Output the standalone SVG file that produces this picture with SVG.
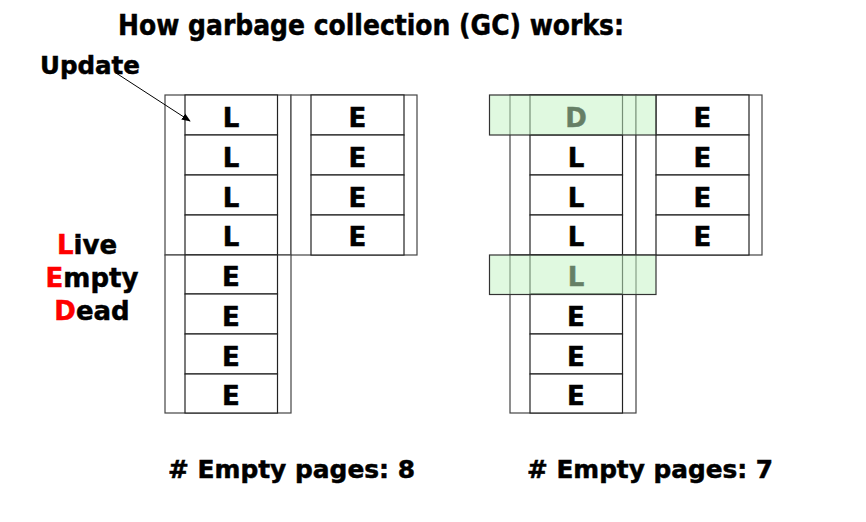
<svg xmlns="http://www.w3.org/2000/svg" width="866" height="522" viewBox="0 0 866 522">
<defs>
<style>
text{font-family:"DejaVu Sans","Liberation Sans",sans-serif;font-weight:bold;fill:#000;stroke:#000;stroke-width:0.5}
.c{font-size:26px;text-anchor:middle}
.lg{font-size:26px;text-anchor:middle}
.frame{fill:#fff;stroke:#444;stroke-width:1.2}
.cell{fill:#fff;stroke:#222;stroke-width:1.2}
.hl{fill:#c4f4c4;fill-opacity:0.52;stroke:#333;stroke-width:1.2}
.red{fill:#ff0000;stroke:#ff0000}
</style>
<marker id="ah" viewBox="0 0 10 10" refX="9" refY="5" markerWidth="9" markerHeight="9" markerUnits="userSpaceOnUse" orient="auto"><path d="M0,1 L10,5 L0,9 z" fill="#000"/></marker>
</defs>
<rect width="866" height="522" fill="#fff"/>
<text x="371" y="35" font-size="28" text-anchor="middle" textLength="506" lengthAdjust="spacingAndGlyphs">How garbage collection (GC) works:</text>
<text id="update" x="40" y="74" font-size="24" textLength="100" lengthAdjust="spacingAndGlyphs">Update</text>
<g id="legend">
<text class="lg" x="87" y="254"><tspan class="red">L</tspan>ive</text>
<text class="lg" x="92" y="287"><tspan class="red">E</tspan>mpty</text>
<text class="lg" x="92" y="320"><tspan class="red">D</tspan>ead</text>
</g>
<g id="before">
<g id="blockA1">
<rect class="frame" x="165" y="95" width="126" height="160"/>
<rect class="cell" x="185" y="95" width="92.5" height="40"/>
<rect class="cell" x="185" y="135" width="92.5" height="40"/>
<rect class="cell" x="185" y="175" width="92.5" height="40"/>
<rect class="cell" x="185" y="215" width="92.5" height="40"/>
<text class="c" x="231" y="127">L</text>
<text class="c" x="231" y="167">L</text>
<text class="c" x="231" y="207">L</text>
<text class="c" x="231" y="246">L</text>
</g>
<g id="blockB1">
<rect class="frame" x="291" y="95" width="126" height="160"/>
<rect class="cell" x="311" y="95" width="93" height="40"/>
<rect class="cell" x="311" y="135" width="93" height="40"/>
<rect class="cell" x="311" y="175" width="93" height="40"/>
<rect class="cell" x="311" y="215" width="93" height="40"/>
<text class="c" x="357.5" y="127">E</text>
<text class="c" x="357.5" y="167">E</text>
<text class="c" x="357.5" y="207">E</text>
<text class="c" x="357.5" y="246">E</text>
</g>
<g id="blockC1">
<rect class="frame" x="165" y="255" width="126" height="158"/>
<rect class="cell" x="185" y="255" width="92.5" height="39"/>
<rect class="cell" x="185" y="294" width="92.5" height="40"/>
<rect class="cell" x="185" y="334" width="92.5" height="40"/>
<rect class="cell" x="185" y="374" width="92.5" height="39"/>
<text class="c" x="231" y="286">E</text>
<text class="c" x="231" y="326">E</text>
<text class="c" x="231" y="366">E</text>
<text class="c" x="231" y="405">E</text>
</g>
</g>
<g id="after">
<g id="blockA2">
<rect class="frame" x="510" y="95" width="126" height="160"/>
<rect class="cell" x="530" y="95" width="92.5" height="40"/>
<rect class="cell" x="530" y="135" width="92.5" height="40"/>
<rect class="cell" x="530" y="175" width="92.5" height="40"/>
<rect class="cell" x="530" y="215" width="92.5" height="40"/>
<text class="c" x="576" y="127">D</text>
<text class="c" x="576" y="167">L</text>
<text class="c" x="576" y="207">L</text>
<text class="c" x="576" y="246">L</text>
</g>
<g id="blockB2">
<rect class="frame" x="636" y="95" width="126" height="160"/>
<rect class="cell" x="656" y="95" width="93" height="40"/>
<rect class="cell" x="656" y="135" width="93" height="40"/>
<rect class="cell" x="656" y="175" width="93" height="40"/>
<rect class="cell" x="656" y="215" width="93" height="40"/>
<text class="c" x="702.5" y="127">E</text>
<text class="c" x="702.5" y="167">E</text>
<text class="c" x="702.5" y="207">E</text>
<text class="c" x="702.5" y="246">E</text>
</g>
<g id="blockC2">
<rect class="frame" x="510" y="255" width="126" height="158"/>
<rect class="cell" x="530" y="255" width="92.5" height="39"/>
<rect class="cell" x="530" y="294" width="92.5" height="40"/>
<rect class="cell" x="530" y="334" width="92.5" height="40"/>
<rect class="cell" x="530" y="374" width="92.5" height="39"/>
<text class="c" x="576" y="286">L</text>
<text class="c" x="576" y="326">E</text>
<text class="c" x="576" y="366">E</text>
<text class="c" x="576" y="405">E</text>
</g>
<g id="highlights">
<rect class="hl" x="489.5" y="95" width="166.5" height="40"/>
<rect class="hl" x="489.5" y="255" width="166.5" height="39.5"/>
</g>
</g>
<g id="connectors">
<line x1="116" y1="73" x2="190" y2="121" stroke="#000" stroke-width="1" marker-end="url(#ah)"/>
</g>
<text x="291.5" y="478" font-size="24" text-anchor="middle" textLength="247" lengthAdjust="spacingAndGlyphs"># Empty pages: 8</text>
<text x="650" y="478" font-size="24" text-anchor="middle" textLength="246" lengthAdjust="spacingAndGlyphs"># Empty pages: 7</text>
</svg>
